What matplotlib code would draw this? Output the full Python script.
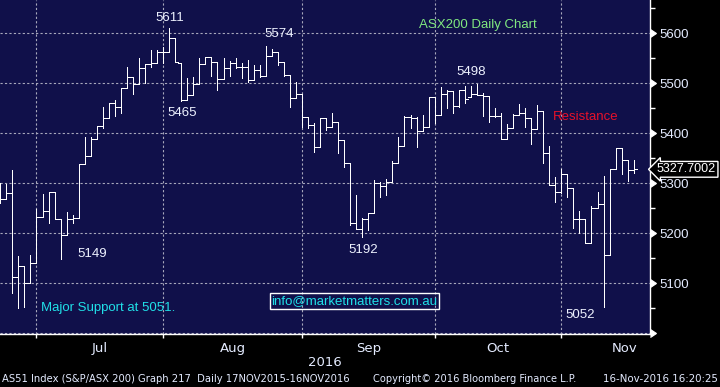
import matplotlib
matplotlib.use("Agg")
import matplotlib.pyplot as plt
from matplotlib.markers import CARETRIGHTBASE
import numpy as np

# ---- data (ASX200 daily OHLC) ----
opens = [5285, 5269, 5281, 5113, 5135, 5101, 5141, 5232, 5245, 5282,
         5228, 5197, 5228, 5230, 5338, 5355, 5388, 5415, 5430, 5460,
         5452, 5490, 5513, 5498, 5530, 5539, 5540, 5563, 5563, 5590,
         5540, 5467, 5477, 5499, 5538, 5553, 5543, 5508, 5531, 5541,
         5533, 5533, 5507, 5527, 5515, 5555, 5563, 5543, 5517, 5470,
         5478, 5433, 5417, 5373, 5430, 5413, 5423, 5387, 5340, 5221,
         5208, 5228, 5241, 5300, 5295, 5303, 5340, 5375, 5433, 5430,
         5405, 5412, 5473, 5437, 5478, 5485, 5455, 5487, 5473, 5478,
         5477, 5475, 5435, 5435, 5388, 5410, 5437, 5441, 5430, 5408,
         5445, 5360, 5297, 5283, 5319, 5290, 5229, 5229, 5180, 5250,
         5259, 5157, 5328, 5370, 5347, 5327]
highs = [5300, 5299, 5327, 5155, 5135, 5157, 5248, 5279, 5282, 5282,
         5228, 5243, 5237, 5338, 5393, 5393, 5415, 5452, 5461, 5467,
         5490, 5533, 5513, 5551, 5539, 5567, 5567, 5573, 5611, 5590,
         5540, 5510, 5512, 5550, 5553, 5553, 5543, 5550, 5545, 5550,
         5540, 5547, 5537, 5537, 5574, 5568, 5563, 5543, 5517, 5503,
         5478, 5433, 5420, 5430, 5430, 5440, 5423, 5387, 5340, 5277,
         5230, 5241, 5307, 5303, 5308, 5345, 5393, 5435, 5437, 5433,
         5437, 5473, 5473, 5492, 5487, 5485, 5487, 5495, 5495, 5498,
         5480, 5475, 5450, 5441, 5419, 5438, 5459, 5450, 5430, 5457,
         5445, 5375, 5313, 5328, 5319, 5290, 5245, 5229, 5255, 5283,
         5315, 5328, 5370, 5370, 5347, 5347]
lows = [5260, 5269, 5081, 5051, 5052, 5101, 5141, 5233, 5220, 5228,
        5149, 5197, 5221, 5230, 5338, 5355, 5388, 5411, 5430, 5435,
        5441, 5490, 5479, 5498, 5500, 5533, 5540, 5540, 5563, 5543,
        5465, 5467, 5477, 5499, 5538, 5515, 5487, 5508, 5515, 5530,
        5510, 5503, 5507, 5513, 5515, 5555, 5537, 5515, 5453, 5470,
        5412, 5410, 5363, 5373, 5407, 5413, 5360, 5333, 5217, 5208,
        5192, 5207, 5241, 5273, 5277, 5303, 5340, 5375, 5410, 5373,
        5405, 5412, 5420, 5437, 5450, 5441, 5453, 5460, 5473, 5477,
        5435, 5423, 5432, 5388, 5388, 5410, 5437, 5412, 5379, 5408,
        5341, 5297, 5263, 5281, 5273, 5210, 5201, 5180, 5180, 5250,
        5052, 5157, 5328, 5319, 5305, 5321]
closes = [5269, 5281, 5113, 5135, 5101, 5141, 5232, 5245, 5282, 5228,
          5197, 5228, 5230, 5338, 5355, 5388, 5415, 5430, 5460, 5452,
          5490, 5513, 5498, 5530, 5539, 5540, 5563, 5563, 5590, 5543,
          5467, 5477, 5499, 5538, 5553, 5543, 5508, 5531, 5541, 5533,
          5533, 5507, 5527, 5515, 5555, 5563, 5543, 5517, 5470, 5478,
          5433, 5417, 5373, 5431, 5412, 5423, 5387, 5340, 5221, 5208,
          5228, 5241, 5300, 5295, 5303, 5340, 5375, 5433, 5430, 5405,
          5412, 5473, 5437, 5478, 5485, 5455, 5487, 5469, 5478, 5477,
          5475, 5435, 5435, 5388, 5410, 5437, 5441, 5430, 5408, 5445,
          5360, 5297, 5283, 5319, 5290, 5229, 5229, 5180, 5250, 5259,
          5157, 5328, 5370, 5347, 5327, 5327.7002]

month_labels = ["Jul", "Aug", "Sep", "Oct", "Nov"]
month_start = [6, 27, 50, 72, 93]     # bar index of each month boundary
month_end = [27, 50, 72, 93, 114]
y_ticks = [5000, 5100, 5200, 5300, 5400, 5500, 5600]
y_tick_labels = ["", "5100", "5200", "5300", "5400", "5500", "5600"]
y_minor = [5050, 5150, 5250, 5350, 5450, 5550, 5650]
last_price = "5327.7002"

point_labels = ["5611", "5465", "5574", "5498", "5149", "5192", "5052"]
point_x = [28.1, 30.1, 46.2, 78.1, 15.2, 60.1, 96.1]
point_y = [5630, 5441, 5599, 5523, 5159, 5167, 5037]

# ---- figure ----
W, H = 720, 387
fig = plt.figure(figsize=(7.2, 3.87), dpi=100, facecolor="black")
ax = fig.add_axes([0, (H - 334) / H, 650 / W, 334 / H])
ax.set_facecolor("#10104a")

x = np.arange(len(closes))
kw = dict(color="white", lw=0.72, antialiased=False, zorder=3)
ax.vlines(x, lows, highs, **kw)
ax.hlines(opens, x - 0.5, x, **kw)
ax.hlines(closes, x, x + 0.5, **kw)

ax.set_xlim(-0.05, 107.7)
ax.set_ylim(4998, 5666.7)

for s in ("top", "left"):
    ax.spines[s].set_visible(False)
for s in ("right", "bottom"):
    ax.spines[s].set_color("white")
    ax.spines[s].set_linewidth(1.0)

txtc = "#e4ebff"
ax.yaxis.tick_right()
ax.set_yticks(y_ticks)
ax.set_yticks(y_minor, minor=True)
ax.set_yticklabels(y_tick_labels, fontsize=9.5, color=txtc,
                   family="Liberation Sans")
ax.tick_params(axis="y", which="major", length=0, pad=7, color="white")
ax.tick_params(axis="y", which="minor", length=3.5, width=1, color="white")
for t in ax.yaxis.get_major_ticks():
    t.tick2line.set_marker(CARETRIGHTBASE)
    t.tick2line.set_markersize(6)
    t.tick2line.set_markerfacecolor("white")
    t.tick2line.set_markeredgecolor("white")

ax.set_xticks(month_start)
ax.set_xticklabels([])
centers = [(a + b) / 2 for a, b in zip(month_start, month_end)]
ax.set_xticks(centers, minor=True)
ax.set_xticklabels(month_labels, minor=True, fontsize=9.5, color=txtc,
                   family="DejaVu Sans")
ax.tick_params(axis="x", which="major", direction="out", length=3, width=1,
               color="white")
ax.tick_params(axis="x", which="minor", length=0, pad=6)

ax.grid(True, which="major", color="#a8a8bc", linestyle=(0, (2, 2)),
        linewidth=0.8, zorder=1)
ax.set_axisbelow(True)

# ---- annotations ----
for t, px, py in zip(point_labels, point_x, point_y):
    ax.text(px, py, t, color="#eef2ff", fontsize=9.5, family="Liberation Sans",
            ha="center", va="center", zorder=4)
ax.text(79.2, 5617, "ASX200 Daily Chart", color="#80e880", fontsize=9.5,
        family="Liberation Sans", ha="center", va="center")
ax.text(97.1, 5433, "Resistance", color="#e8102a", fontsize=9.5,
        family="Liberation Sans", ha="center", va="center")
ax.text(17.8, 5051, "Major Support at 5051.", color="#20e0e8", fontsize=9.5,
        family="Liberation Sans", ha="center", va="center")
ax.text(58.7, 5064, "info@marketmatters.com.au", color="#20e0e8",
        fontsize=9.5, family="Liberation Sans", ha="center", va="center",
        bbox=dict(boxstyle="square,pad=0.12", facecolor="none",
                  edgecolor="white", linewidth=1.0))

# last price box
ax.annotate(last_price, xy=(1.0, closes[-1]),
            xycoords=("axes fraction", "data"),
            xytext=(5, 0), textcoords="offset points", ha="left", va="center",
            fontsize=9, family="Liberation Sans", color="white",
            bbox=dict(boxstyle="larrow,pad=0.15", facecolor="black",
                      edgecolor="white", linewidth=1.0),
            annotation_clip=False)

fig.text(325 / W, 1 - 362 / H, "2016", color=txtc, fontsize=9.5,
         family="DejaVu Sans", ha="center", va="center")
fig.text(2 / W, 1 - 379 / H,
         "AS51 Index (S&P/ASX 200) Graph 217  Daily 17NOV2015-16NOV2016",
         color=txtc, fontsize=7.2, family="DejaVu Sans", ha="left", va="center")
fig.text(373 / W, 1 - 379 / H, "Copyright\u00a9 2016 Bloomberg Finance L.P.",
         color=txtc, fontsize=7.15, family="DejaVu Sans", ha="left", va="center")
fig.text(718 / W, 1 - 379 / H, "16-Nov-2016 16:20:25",
         color=txtc, fontsize=7.4, family="DejaVu Sans", ha="right", va="center")

fig.savefig("out.png", dpi=100, facecolor="black")
